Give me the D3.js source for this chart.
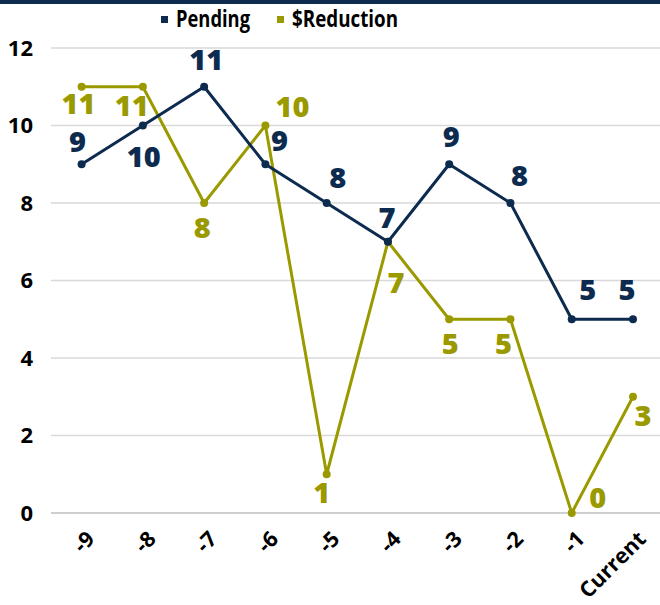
<!DOCTYPE html>
<html><head><meta charset="utf-8">
<script src="https://cdn.jsdelivr.net/npm/d3@7"></script>
<style>body{margin:0;background:#fff;}svg{display:block;font-family:"Open Sans",sans-serif;}</style>
</head><body>
<svg id="c" width="660" height="605"></svg>
<script>
const categories = ["-9","-8","-7","-6","-5","-4","-3","-2","-1","Current"];
const pending = [9,10,11,9,8,7,9,8,5,5];
const reduction = [11,11,8,10,1,7,5,5,0,3];
const yTicks = [0,2,4,6,8,10,12];
// label placement [dx, dy] relative to point
const pendingLabelPos = [[-4,-23],[1,31],[2,-27],[14,-24],[11,-25],[-1,-24],[2,-28],[9,-27],[16,-30],[-6,-30]];
const reductionLabelPos = [[-3,17],[-11,19],[-2,25],[27,-19],[-5,18],[8,41],[1,24],[-7,24],[26,-15],[10,19]];

const navy = "#0c2b4e", olive = "#9a9a00";
const svg = d3.select("#c");
const x = d3.scalePoint().domain(categories).range([81.6, 633]);
const y = d3.scaleLinear().domain([0,12]).range([513, 48]);

svg.append("rect").attr("x",0).attr("y",0).attr("width",660).attr("height",4).attr("fill",navy);

// grid
svg.append("g").selectAll("line").data(yTicks).join("line")
  .attr("x1",51).attr("x2",660).attr("y1",d=>y(d)).attr("y2",d=>y(d))
  .attr("stroke",d=>d===0?"#bfbfbf":"#d9d9d9").attr("stroke-width",1.3);
svg.append("g").selectAll("text").data(yTicks).join("text")
  .attr("x",33).attr("y",d=>y(d)).attr("dy","0.36em").attr("text-anchor","end")
  .attr("font-size",22).attr("font-weight",700).attr("fill","#000").text(d=>d);

svg.append("g").selectAll("text").data(categories).join("text")
  .attr("transform",d=>`translate(${x(d)+9},${535}) rotate(-45)`)
  .attr("text-anchor","end").attr("dy","0.35em")
  .attr("font-size",21.5).attr("font-weight",700).attr("fill","#000").text(d=>d);

function series(vals,color){
  const g = svg.append("g");
  const line = d3.line().x((d,i)=>x(categories[i])).y(d=>y(d));
  g.append("path").datum(vals).attr("d",line).attr("fill","none").attr("stroke",color).attr("stroke-width",3).attr("stroke-linejoin","round");
  g.selectAll("circle").data(vals).join("circle").attr("cx",(d,i)=>x(categories[i])).attr("cy",d=>y(d)).attr("r",4).attr("fill",color);
}
series(reduction,olive);
series(pending,navy);
function labels(vals,color,pos){
  svg.append("g").selectAll("text").data(vals).join("text")
    .attr("x",(d,i)=>x(categories[i])+pos[i][0]).attr("y",(d,i)=>y(d)+pos[i][1]).attr("dy","0.36em")
    .attr("text-anchor","middle").attr("font-size",29).attr("font-weight",800).attr("fill",color).text(d=>d);
}
labels(pending,navy,pendingLabelPos);
labels(reduction,olive,reductionLabelPos);

// legend
const leg = svg.append("g");
const items = [{name:"Pending",color:navy,x:161,w:74},{name:"$Reduction",color:olive,x:277,w:106}];
items.forEach(it=>{
  leg.append("rect").attr("x",it.x).attr("y",16).attr("width",7).attr("height",7).attr("fill",it.color);
  leg.append("text").attr("x",it.x+15).attr("y",19).attr("dy","0.36em").attr("font-size",23).attr("font-weight",700)
    .attr("textLength",it.w).attr("lengthAdjust","spacingAndGlyphs").attr("fill","#000").text(it.name);
});
</script>
</body></html>
